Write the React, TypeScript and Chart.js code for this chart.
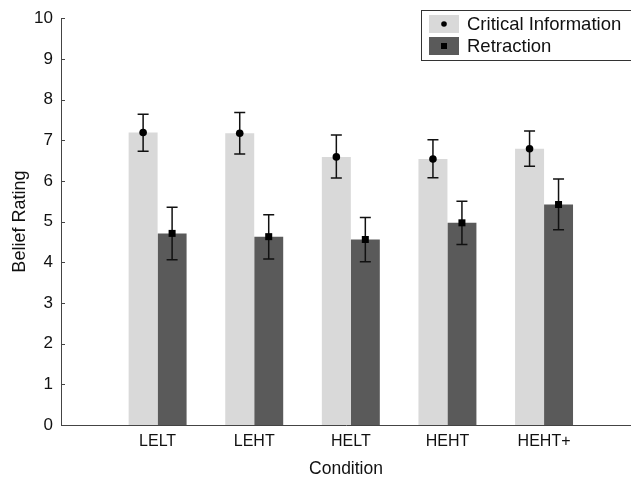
import React, { useEffect, useRef } from "react";
import { Chart, registerables } from "chart.js";

Chart.register(...registerables);

const categories = ["LELT", "LEHT", "HELT", "HEHT", "HEHT+"];
const seriesNames = ["Critical Information", "Retraction"];
const criticalMeans = [7.19, 7.17, 6.59, 6.54, 6.79];
const criticalUpper = [7.64, 7.68, 7.13, 7.01, 7.23];
const criticalLower = [6.73, 6.66, 6.07, 6.08, 6.36];
const retractionMeans = [4.71, 4.63, 4.56, 4.97, 5.42];
const retractionUpper = [5.35, 5.17, 5.1, 5.5, 6.05];
const retractionLower = [4.06, 4.08, 4.01, 4.44, 4.8];
const yTicks = [0, 1, 2, 3, 4, 5, 6, 7, 8, 9, 10];

const FONT = "'Liberation Sans', Arial, sans-serif";
const LIGHT = "#d9d9d9";
const DARK = "#5a5a5a";
const AXIS = "#444444";

const upperAll = [criticalUpper, retractionUpper];
const lowerAll = [criticalLower, retractionLower];
const meansAll = [criticalMeans, retractionMeans];

const errorBarPlugin = {
  id: "errorBars",
  afterDatasetsDraw(chart: any) {
    const ctx = chart.ctx;
    const y = chart.scales.y;
    ctx.save();
    for (let d = 0; d < 2; d++) {
      const meta = chart.getDatasetMeta(d);
      meta.data.forEach((el: any, j: number) => {
        const x = el.x;
        const yu = y.getPixelForValue(upperAll[d][j]);
        const yl = y.getPixelForValue(lowerAll[d][j]);
        const ym = y.getPixelForValue(meansAll[d][j]);
        ctx.strokeStyle = "#111";
        ctx.lineWidth = 1.5;
        ctx.beginPath();
        ctx.moveTo(x, yu);
        ctx.lineTo(x, yl);
        ctx.moveTo(x - 5.5, yu);
        ctx.lineTo(x + 5.5, yu);
        ctx.moveTo(x - 5.5, yl);
        ctx.lineTo(x + 5.5, yl);
        ctx.stroke();
        ctx.fillStyle = "#000";
        if (d === 0) {
          ctx.beginPath();
          ctx.arc(x, ym, 3.8, 0, Math.PI * 2);
          ctx.fill();
        } else {
          ctx.fillRect(x - 3.5, ym - 3.5, 7, 7);
        }
      });
    }
    ctx.restore();
  },
};

const decorPlugin = {
  id: "decor",
  afterDraw(chart: any) {
    const ctx = chart.ctx;
    const y = chart.scales.y;
    const left = chart.chartArea.left;
    ctx.save();
    ctx.strokeStyle = AXIS;
    ctx.lineWidth = 1;
    yTicks.forEach((t) => {
      const py = Math.round(y.getPixelForValue(t)) + 0.5;
      ctx.beginPath();
      ctx.moveTo(left, py);
      ctx.lineTo(left + 4, py);
      ctx.stroke();
    });
    // legend
    const bx = 421.5;
    const by = 10.5;
    ctx.fillStyle = "#fff";
    ctx.fillRect(bx, by, 240, 50);
    ctx.strokeStyle = "#333";
    ctx.strokeRect(bx, by, 240, 50);
    const colors = [LIGHT, DARK];
    const rows = [15, 37];
    rows.forEach((ry, i) => {
      ctx.fillStyle = colors[i];
      ctx.fillRect(429, ry, 30, 18);
      ctx.fillStyle = "#000";
      if (i === 0) {
        ctx.beginPath();
        ctx.arc(444, ry + 9, 2.8, 0, Math.PI * 2);
        ctx.fill();
      } else {
        ctx.fillRect(441, ry + 6, 6, 6);
      }
      ctx.fillStyle = "#111";
      ctx.font = `18.5px ${FONT}`;
      ctx.textBaseline = "middle";
      ctx.textAlign = "left";
      ctx.fillText(seriesNames[i], 467, ry + 10);
    });
    ctx.restore();
  },
};

export default function App() {
  const ref = useRef<HTMLCanvasElement | null>(null);
  useEffect(() => {
    document.body.style.margin = "0";
    const canvas = ref.current;
    if (!canvas) return;
    const chart = new Chart(canvas, {
      type: "bar",
      data: {
        datasets: [
          {
            label: seriesNames[0],
            data: categories.map((_, i) => ({ x: i + 1, y: criticalMeans[i] })),
            backgroundColor: LIGHT,
            borderWidth: 0,
          },
          {
            label: seriesNames[1],
            data: categories.map((_, i) => ({ x: i + 1, y: retractionMeans[i] })),
            backgroundColor: DARK,
            borderWidth: 0,
          },
        ],
      } as any,
      options: {
        animation: false,
        responsive: false,
        devicePixelRatio: 1,
        layout: { padding: { top: 17, right: 0, left: 0, bottom: 0 } },
        datasets: { bar: { categoryPercentage: 0.6, barPercentage: 1.0 } } as any,
        plugins: { legend: { display: false }, tooltip: { enabled: false } },
        scales: {
          x: {
            type: "linear",
            offset: false,
            min: 0,
            max: 5.9,
            afterBuildTicks: (s: any) => {
              s.ticks = categories.map((_, i) => ({ value: i + 1 }));
            },
            afterFit: (s: any) => {
              s.height = 55;
            },
            grid: { display: false, drawTicks: false },
            border: { display: true, color: AXIS, width: 1 },
            ticks: {
              autoSkip: false,
              maxRotation: 0,
              padding: 7,
              color: "#111",
              font: { family: FONT, size: 16 },
              callback: (v: any) => categories[Number(v) - 1] ?? "",
            },
            title: {
              display: true,
              text: "Condition",
              color: "#111",
              font: { family: FONT, size: 17.5 },
              padding: { top: -1, bottom: 0 },
            },
          },
          y: {
            min: 0,
            max: 10,
            afterBuildTicks: (s: any) => {
              s.ticks = yTicks.map((v) => ({ value: v }));
            },
            afterFit: (s: any) => {
              s.width = 61;
            },
            grid: { display: false, drawTicks: false },
            border: { display: true, color: AXIS, width: 1 },
            ticks: {
              padding: 8,
              color: "#111",
              font: { family: FONT, size: 17 },
            },
            title: {
              display: true,
              text: "Belief Rating",
              color: "#111",
              font: { family: FONT, size: 18 },
              padding: { top: 9, bottom: 0 },
            },
          },
        },
      } as any,
      plugins: [errorBarPlugin, decorPlugin],
    });
    return () => chart.destroy();
  }, []);
  return (
    <div style={{ position: "absolute", left: 0, top: 0, width: 631, height: 480, background: "#fff" }}>
      <canvas ref={ref} width={631} height={480} style={{ display: "block" }} />
    </div>
  );
}
